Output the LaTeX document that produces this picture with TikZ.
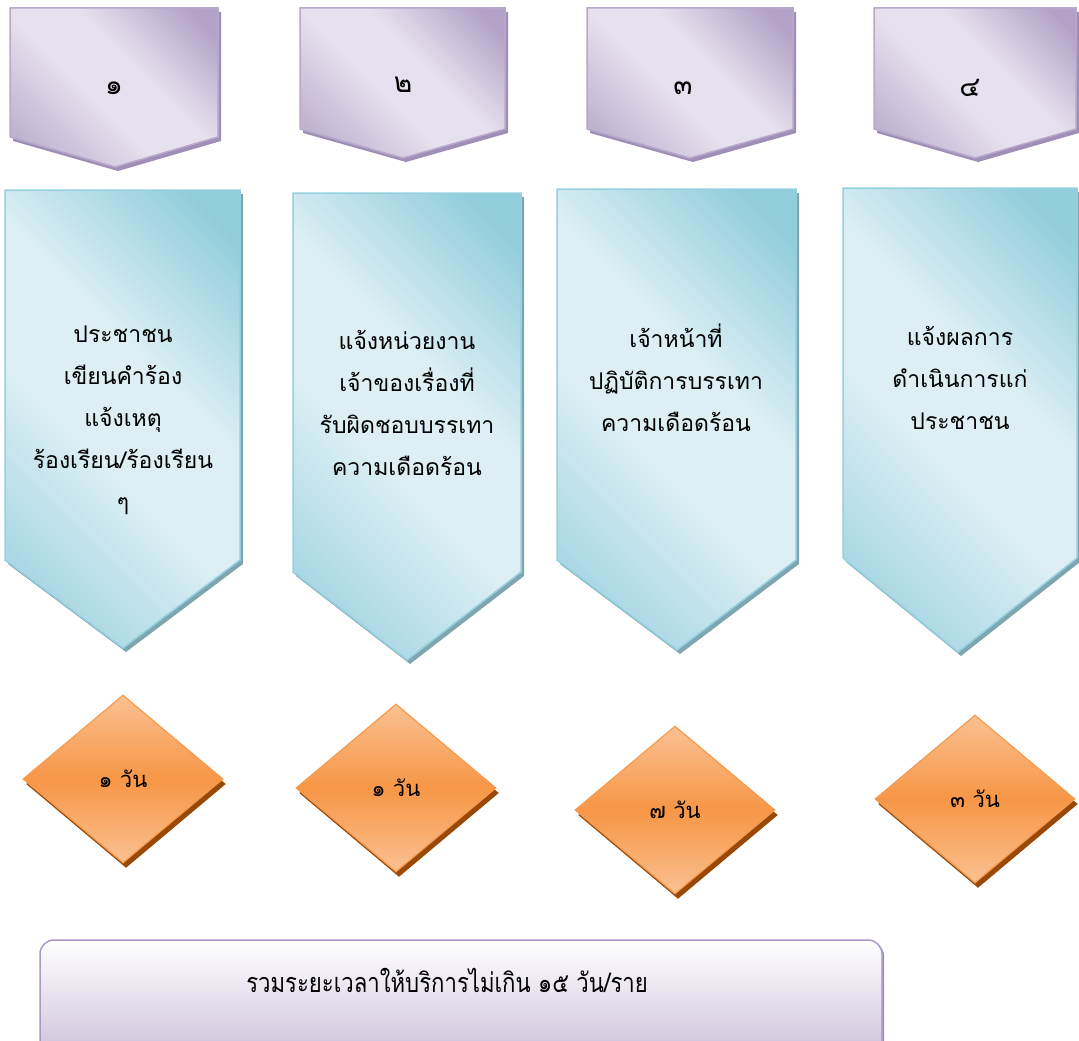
\documentclass[tikz,border=0pt]{standalone}
\usepackage{fontspec}
\newfontfamily\thaifont[Script=Thai]{Loma}
\newfontfamily\thainarrow[Script=Thai,FakeStretch=0.82]{Loma}
\usepackage{tikz}
\usetikzlibrary{shapes.geometric,shadows,positioning}

\definecolor{tabdark}{HTML}{B3A2C7}
\definecolor{tablight}{HTML}{E6E1EE}
\definecolor{tabedge}{HTML}{B8A9CB}
\definecolor{tabshadow}{HTML}{9F8EB6}
\definecolor{stepdark}{HTML}{92CDDC}
\definecolor{steplight}{HTML}{DDEFF5}
\definecolor{stepedge}{HTML}{95D0DE}
\definecolor{stepshadow}{HTML}{7FA5B1}
\definecolor{daylight}{HTML}{FAC191}
\definecolor{daydark}{HTML}{F79646}
\definecolor{dayedge}{HTML}{F79A4E}
\definecolor{dayshadow}{HTML}{984807}
\definecolor{totaledge}{HTML}{A999C6}
\definecolor{totalfill}{HTML}{CCC1DA}

\pgfdeclarehorizontalshading{tabshade}{100bp}{color(0bp)=(tabdark); color(22bp)=(tabdark!75!tablight); color(44bp)=(tablight); color(58bp)=(tablight); color(80bp)=(tabdark); color(100bp)=(tabdark)}
\pgfdeclarehorizontalshading{stepshade}{100bp}{color(0bp)=(stepdark); color(22bp)=(stepdark!75!steplight); color(44bp)=(steplight); color(58bp)=(steplight); color(80bp)=(stepdark); color(100bp)=(stepdark)}

\begin{document}
\begin{tikzpicture}[x=1pt,y=-1pt,
    tab/.style={draw=tabedge,line width=1.5pt,shading=tabshade,shading angle=45,
      drop shadow={shadow xshift=3pt,shadow yshift=-4pt,fill=tabshadow,opacity=1}},
    stepbox/.style={draw=stepedge,line width=1.5pt,shading=stepshade,shading angle=45,
      drop shadow={shadow xshift=3pt,shadow yshift=-4pt,fill=stepshadow,opacity=1}},
    day/.style={diamond,draw=dayedge,line width=1.2pt,minimum width=200pt,minimum height=168pt,
      inner sep=0pt,top color=daylight,bottom color=daylight,middle color=daydark,
      drop shadow={shadow xshift=3pt,shadow yshift=-5pt,fill=dayshadow,opacity=1},
      font=\thaifont\fontsize{22}{24}\selectfont},
    total/.style={draw=totaledge,line width=1.5pt,rounded corners=14pt,top color=white,bottom color=totalfill,
      drop shadow={shadow xshift=2pt,shadow yshift=-2pt,fill=totaledge!70!gray,opacity=1}},
    numtext/.style={font=\thaifont\fontsize{28}{30}\selectfont},
    steptext/.style={align=center,font=\thaifont\fontsize{23}{42}\selectfont},
    sumtext/.style={font=\thainarrow\fontsize{27}{30}\selectfont}]

 \useasboundingbox (0,0) rectangle (1079,1041);

 % number tabs
 \path[tab] (10,8) -- (218,8) -- (218,137) -- (115,167) -- (10,137) -- cycle;
 \path[tab] (300,8) -- (505,8) -- (505,129) -- (403,158) -- (300,129) -- cycle;
 \path[tab] (587,8) -- (793,8) -- (793,129) -- (690,158) -- (587,129) -- cycle;
 \path[tab] (874,8) -- (1076,8) -- (1076,129) -- (975,158) -- (874,129) -- cycle;

 \node[numtext] (n1) at (114,88) {๑};
 \node[numtext] (n2) at (403,85) {๒};
 \node[numtext] (n3) at (683,88) {๓};
 \node[numtext] (n4) at (970,88) {๔};

 % steps
 \path[stepbox] (5,190) -- (240,190) -- (240,560) -- (123,648) -- (5,560) -- cycle;
 \path[stepbox] (293,193) -- (521,193) -- (521,572) -- (407,660) -- (293,572) -- cycle;
 \path[stepbox] (557,189) -- (796,189) -- (796,560) -- (677,650) -- (557,560) -- cycle;
 \path[stepbox] (843,188) -- (1077,188) -- (1077,558) -- (958,652) -- (843,558) -- cycle;

 \node[steptext] (s1) at (123,420) {ประชาชน\\เขียนคำร้อง\\แจ้งเหตุ\\ร้องเรียน/ร้องเรียน\\ๆ};
 \node[steptext] (s2) at (407,403) {แจ้งหน่วยงาน\\เจ้าของเรื่องที่\\รับผิดชอบบรรเทา\\ความเดือดร้อน};
 \node[steptext] (s3) at (676,378) {เจ้าหน้าที่\\ปฏิบัติการบรรเทา\\ความเดือดร้อน};
 \node[steptext] (s4) at (960,378) {แจ้งผลการ\\ดำเนินการแก่\\ประชาชน};

 % days
 \node[day] (d1) at (123,779) {๑ วัน};
 \node[day] (d2) at (396,788) {๑ วัน};
 \node[day] (d3) at (675,810) {๗ วัน};
 \node[day] (d4) at (975,799) {๓ วัน};

 % total
 \begin{scope}
  \clip (0,0) rectangle (1079,1041);
  \path[total] (40,940) rectangle (882,1058);
 \end{scope}
 \node[sumtext] (sum) at (447,980) {รวมระยะเวลาให้บริการไม่เกิน ๑๕ วัน/ราย};

\end{tikzpicture}
\end{document}
